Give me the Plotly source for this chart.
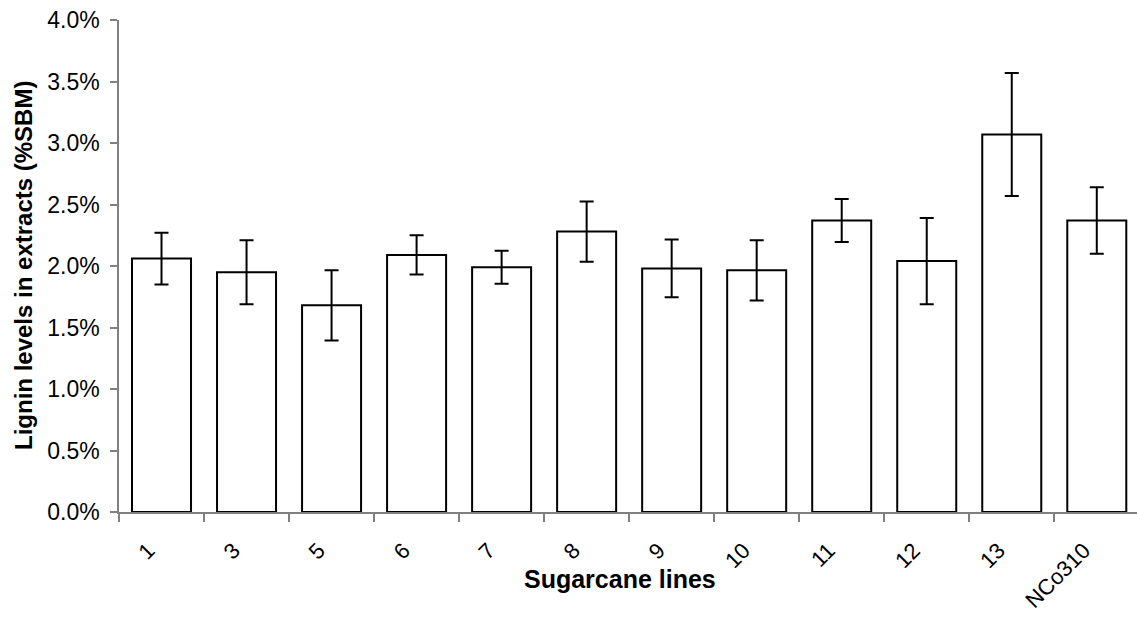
import plotly.graph_objects as go

categories = ["1", "3", "5", "6", "7", "8", "9", "10", "11", "12", "13", "NCo310"]
lignin_pct = [2.06, 1.95, 1.68, 2.09, 1.99, 2.28, 1.98, 1.965, 2.37, 2.04, 3.07, 2.37]
error_pct = [0.21, 0.26, 0.285, 0.16, 0.135, 0.245, 0.235, 0.245, 0.175, 0.35, 0.50, 0.27]

values = [v / 100 for v in lignin_pct]
errors = [e / 100 for e in error_pct]

FONT = "Liberation Sans, Arial, sans-serif"

fig = go.Figure(
    go.Bar(
        x=categories,
        y=values,
        marker=dict(color="white", line=dict(color="black", width=2)),
        error_y=dict(type="data", array=errors, visible=True,
                     color="black", thickness=2, width=7),
    )
)

fig.update_layout(
    width=1137,
    height=619,
    margin=dict(l=119, r=0, t=20, b=107),
    paper_bgcolor="white",
    plot_bgcolor="white",
    bargap=0.306,
    showlegend=False,
    font=dict(family=FONT, size=18, color="black"),
    annotations=[
        dict(text="<b>Lignin levels in extracts (%SBM)</b>", textangle=-90,
             xref="paper", yref="paper", x=0, y=0.5, xanchor="center",
             yanchor="middle", xshift=-96, showarrow=False,
             font=dict(family=FONT, size=24, color="black")),
        dict(text="<b>Sugarcane lines</b>",
             xref="paper", yref="paper", x=(620 - 119) / 1018, y=0,
             xanchor="center", yanchor="middle", yshift=-67, showarrow=False,
             font=dict(family=FONT, size=25, color="black")),
    ],
)

fig.update_xaxes(
    type="category",
    range=[-0.5, 11.473],
    showline=True, linecolor="#808080", linewidth=2,
    ticks="outside", tickson="boundaries", ticklen=8, tickcolor="#808080", tickwidth=1.5,
    tickangle=-45,
    ticklabelstandoff=15, ticklabelshift=-13,
    tickfont=dict(family=FONT, size=22, color="black"),
    showgrid=False, zeroline=False,
)

fig.update_yaxes(
    range=[0, 0.04],
    dtick=0.005,
    tickformat=".1%",
    showline=True, linecolor="#808080", linewidth=1.5,
    ticks="outside", ticklen=7, tickcolor="#808080", tickwidth=1.5,
    ticklabelstandoff=6,
    tickfont=dict(family=FONT, size=23, color="black"),
    showgrid=False, zeroline=False,
)

fig.write_html("out.html")
